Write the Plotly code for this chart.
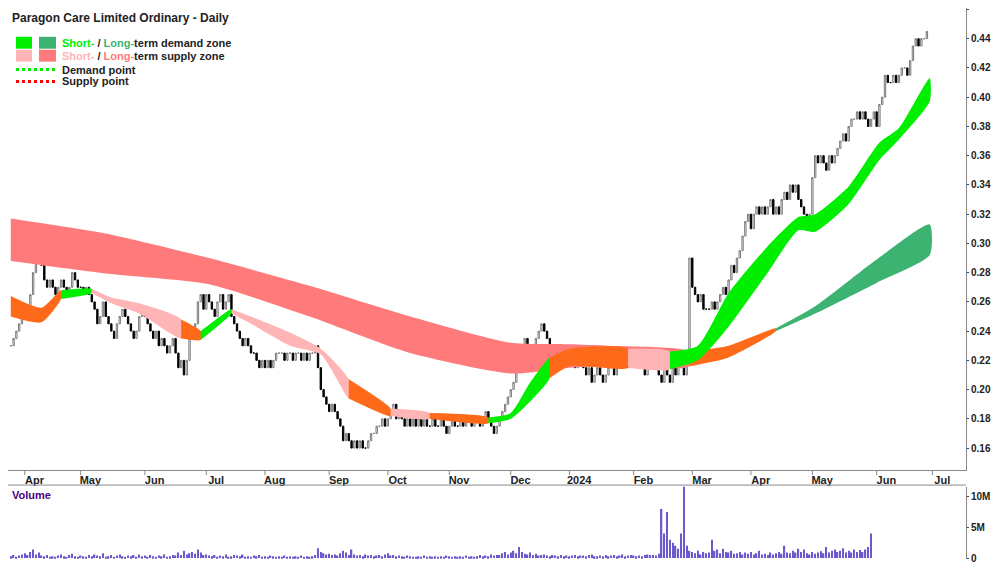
import pandas as pd
import plotly.graph_objects as go
from plotly.subplots import make_subplots

# daily closes, one row per trading week (Mon..Fri), from 27 Mar 2023
closes = [
    0.230, 0.235, 0.240, 0.245, 0.250,
    0.250, 0.255, 0.265, 0.280, 0.290,
    0.295, 0.285, 0.275, 0.270, 0.275,
    0.270, 0.265, 0.270, 0.275, 0.270,
    0.265, 0.270, 0.280, 0.275, 0.270,
    0.270, 0.265, 0.270, 0.265, 0.260,
    0.255, 0.245, 0.250, 0.260, 0.250,
    0.245, 0.240, 0.235, 0.245, 0.250,
    0.255, 0.250, 0.245, 0.240, 0.235,
    0.240, 0.250, 0.255, 0.250, 0.245,
    0.240, 0.235, 0.240, 0.230, 0.235,
    0.230, 0.225, 0.230, 0.235, 0.225,
    0.215, 0.220, 0.210, 0.220, 0.235,
    0.240, 0.245, 0.260, 0.265, 0.255,
    0.265, 0.260, 0.255, 0.250, 0.260,
    0.265, 0.255, 0.260, 0.265, 0.250,
    0.245, 0.240, 0.235, 0.230, 0.235,
    0.230, 0.225, 0.225, 0.220, 0.215,
    0.220, 0.215, 0.220, 0.215, 0.220,
    0.225, 0.225, 0.225, 0.220, 0.225,
    0.225, 0.220, 0.225, 0.225, 0.220,
    0.225, 0.220, 0.225, 0.225, 0.230,
    0.215, 0.200, 0.195, 0.190, 0.185,
    0.190, 0.185, 0.180, 0.175, 0.165,
    0.170, 0.165, 0.160, 0.165, 0.160,
    0.165, 0.160, 0.160, 0.165, 0.170,
    0.170, 0.175, 0.175, 0.180, 0.175,
    0.180, 0.185, 0.190, 0.180, 0.185,
    0.180, 0.175, 0.180, 0.175, 0.180,
    0.175, 0.180, 0.175, 0.180, 0.175,
    0.175, 0.180, 0.175, 0.175, 0.180,
    0.175, 0.170, 0.175, 0.180, 0.175,
    0.175, 0.180, 0.175, 0.180, 0.180,
    0.175, 0.180, 0.180, 0.175, 0.180,
    0.185, 0.180, 0.175, 0.170, 0.175,
    0.180, 0.185, 0.190, 0.195, 0.200,
    0.205, 0.215, 0.230, 0.225, 0.235,
    0.230, 0.225, 0.230, 0.235, 0.240,
    0.245, 0.240, 0.235, 0.230, 0.225,
    0.230, 0.225, 0.220, 0.230, 0.225,
    0.220, 0.225, 0.215, 0.220, 0.225,
    0.215, 0.210, 0.215, 0.205, 0.210,
    0.215, 0.210, 0.205, 0.210, 0.215,
    0.215, 0.210, 0.215, 0.220, 0.215,
    0.220, 0.215, 0.220, 0.225, 0.215,
    0.220, 0.215, 0.210, 0.215, 0.220,
    0.215, 0.220, 0.210, 0.205, 0.215,
    0.210, 0.205, 0.215, 0.210, 0.220,
    0.215, 0.210, 0.220, 0.290, 0.270,
    0.265, 0.260, 0.265, 0.255, 0.255,
    0.255, 0.260, 0.255, 0.260, 0.265,
    0.270, 0.265, 0.275, 0.285, 0.280,
    0.290, 0.295, 0.305, 0.315, 0.320,
    0.310, 0.320, 0.325, 0.320, 0.325,
    0.320, 0.325, 0.330, 0.320, 0.325,
    0.320, 0.330, 0.335, 0.330, 0.340,
    0.335, 0.340, 0.330, 0.325, 0.320,
    0.315, 0.320, 0.345, 0.360, 0.355,
    0.360, 0.355, 0.350, 0.360, 0.355,
    0.360, 0.365, 0.370, 0.375, 0.370,
    0.380, 0.385, 0.385, 0.390, 0.385,
    0.390, 0.385, 0.380, 0.385, 0.390,
    0.380, 0.395, 0.400, 0.415, 0.410,
    0.410, 0.415, 0.410, 0.415, 0.420,
    0.420, 0.415, 0.425, 0.435, 0.440,
    0.435, 0.440, 0.440, 0.445,
]

# daily volume, in units of 100k shares
volume = [
    3, 5, 2, 4, 6,  8, 5, 10, 14, 6,  9, 4, 3, 5, 2,  3, 2, 4, 6, 3,
    2, 5, 7, 3, 2,  4, 3, 2, 5, 3,  6, 4, 3, 8, 2,  3, 5, 2, 4, 6,
    3, 2, 4, 3, 5,  2, 6, 3, 4, 2,  5, 3, 2, 4, 3,  6, 2, 3, 5, 4,
    9, 5, 12, 6, 8,  10, 7, 14, 9, 5,  6, 4, 3, 5, 2,  4, 3, 6, 2, 3,
    5, 4, 3, 6, 2,  3, 2, 4, 3, 5,  2, 3, 2, 4, 3,  2, 3, 2, 4, 2,
    3, 2, 3, 2, 4,  2, 3, 2, 3, 5,  16, 10, 8, 6, 7,  5, 6, 4, 8, 12,
    9, 5, 14, 6, 4,  5, 3, 6, 4, 5,  3, 4, 5, 3, 6,  8, 4, 5, 3, 4,
    3, 2, 4, 3, 2,  2, 3, 2, 4, 2,  3, 2, 3, 2, 3,  2, 4, 3, 2, 3,
    2, 3, 2, 4, 2,  3, 2, 3, 5, 3,  4, 3, 6, 4, 5,  5, 8, 10, 6, 9,
    12, 8, 18, 10, 7,  6, 9, 5, 7, 4,  5, 6, 4, 3, 5,  4, 3, 5, 3, 4,
    3, 4, 5, 3, 4,  4, 3, 5, 6, 3,  3, 4, 3, 5, 3,  4, 5, 3, 4, 6,
    3, 4, 5, 4, 3,  4, 3, 5, 6, 5,  5, 4, 7, 80, 40,  75, 30, 25, 20, 15,
    40, 120, 20, 12, 10,  8, 12, 6, 10, 8,  9, 30, 12, 14, 8,  15, 10, 9, 12, 7,
    8, 10, 6, 9, 7,  10, 6, 8, 12, 6,  7, 5, 9, 6, 8,  10, 7, 20, 9, 8,
    12, 9, 15, 10, 14,  8, 6, 10, 7, 9,  11, 8, 18, 9, 12,  14, 10, 12, 16, 9,
    12, 9, 14, 10, 13,  10, 14, 18, 40,
]

# zone bands: (trading-day index, upper, lower, kind)
short_idx = [0, 11, 18, 29, 36, 46, 61, 68, 79, 86, 100, 111, 121, 136, 150, 171, 179,
             186, 193, 200, 221, 236, 246, 257, 271, 282, 288, 300, 311, 318, 329]
short_hi = [0.264, 0.256, 0.268, 0.269, 0.263, 0.259, 0.248, 0.240, 0.255, 0.250, 0.239,
            0.228, 0.207, 0.187, 0.184, 0.181, 0.184, 0.205, 0.222, 0.228, 0.228, 0.226,
            0.230, 0.266, 0.298, 0.318, 0.320, 0.339, 0.369, 0.379, 0.413]
short_lo = [0.250, 0.246, 0.262, 0.266, 0.259, 0.252, 0.235, 0.234, 0.252, 0.245, 0.230,
            0.224, 0.194, 0.182, 0.180, 0.177, 0.180, 0.192, 0.208, 0.216, 0.215, 0.214,
            0.220, 0.243, 0.280, 0.309, 0.308, 0.327, 0.357, 0.371, 0.397]
short_kind = ["S", "O", "O", "D", "S", "S", "S", "O", "D", "S", "S", "S", "S", "O", "S", "O",
              "D", "D", "D", "O", "O", "S", "D", "D", "D", "D", "D", "D", "D", "D", "D"]

long_idx = [0, 36, 71, 107, 143, 179, 200, 214, 243, 257, 274, 288, 310, 329]
long_hi = [0.317, 0.306, 0.290, 0.271, 0.250, 0.232, 0.231, 0.230, 0.226, 0.230, 0.242, 0.257, 0.289, 0.313]
long_lo = [0.288, 0.279, 0.272, 0.250, 0.225, 0.211, 0.215, 0.216, 0.216, 0.222, 0.240, 0.252, 0.273, 0.292]
long_kind = ["S", "S", "S", "S", "S", "S", "S", "S", "S", "O", "O", "D", "D", "D"]

month_names = ["Apr", "May", "Jun", "Jul", "Aug", "Sep", "Oct", "Nov", "Dec",
               "2024", "Feb", "Mar", "Apr", "May", "Jun", "Jul"]

dates = pd.bdate_range("2023-03-27", "2024-07-05")
idx = list(range(len(closes)))
opens = [closes[0]] + closes[:-1]
highs = [max(o, c) for o, c in zip(opens, closes)]
lows = [min(o, c) for o, c in zip(opens, closes)]

short_col = {"S": "#ffb5b5", "D": "#00ee00", "O": "#ff6a1a"}
long_col = {"S": "#ff7b7b", "D": "#3cb371", "O": "#ff6a1a"}

fig = make_subplots(rows=2, cols=1, shared_xaxes=True, vertical_spacing=0.03,
                    row_heights=[0.85, 0.15])


def add_band(xs, hi, lo, kinds, colors):
    # one filled polygon per run of the same kind
    start = 0
    for i in range(1, len(xs)):
        last = i == len(xs) - 1 or kinds[i + 1] != kinds[i]
        if last:
            seg = range(start, i + 1)
            px = [xs[j] for j in seg] + [xs[j] for j in reversed(seg)]
            py = [hi[j] for j in seg] + [lo[j] for j in reversed(seg)]
            fig.add_trace(go.Scatter(x=px, y=py, fill="toself", mode="lines",
                                     line=dict(width=0, shape="spline", smoothing=0.6),
                                     fillcolor=colors[kinds[i]], hoverinfo="skip",
                                     showlegend=False), row=1, col=1)
            start = i


add_band(long_idx, long_hi, long_lo, long_kind, long_col)
add_band(short_idx, short_hi, short_lo, short_kind, short_col)

fig.add_trace(go.Candlestick(
    x=idx, open=opens, high=highs, low=lows, close=closes,
    increasing=dict(fillcolor="white", line=dict(color="#7a7a7a", width=1)),
    decreasing=dict(fillcolor="black", line=dict(color="black", width=1)),
    whiskerwidth=0, showlegend=False), row=1, col=1)

fig.add_trace(go.Bar(x=idx, y=[v * 1e5 for v in volume], marker_color="#6a5acd",
                     marker_line_width=0, width=0.5, showlegend=False), row=2, col=1)

# month ticks
tick_pos, tick_txt = [], []
m = 0
for i in range(1, len(dates)):
    if dates[i].month != dates[i - 1].month:
        tick_pos.append(i)
        tick_txt.append(month_names[m])
        m += 1

tf = dict(family="Arial", size=10, color="#222")
fig.update_layout(
    width=1000, height=562, paper_bgcolor="white", plot_bgcolor="white",
    margin=dict(l=0, r=42, t=0, b=0), font=tf,
)
fig.update_xaxes(range=[-1, 342], showgrid=False, zeroline=False, rangeslider_visible=False)
fig.update_xaxes(row=1, col=1, tickvals=[p + 3.5 for p in tick_pos], ticktext=[f"<b>{t}</b>" for t in tick_txt],
                 showticklabels=True, ticks="", showline=True, linecolor="#888",
                 tickfont=dict(family="Arial", size=11, color="#222"))
fig.update_xaxes(row=2, col=1, showticklabels=False, showline=False)
fig.update_yaxes(row=1, col=1, side="right", range=[0.145, 0.461],
                 tickvals=[0.16 + 0.02 * k for k in range(16)],
                 ticktext=[f"<b>{0.16 + 0.02 * k:.2f}</b>" for k in range(16)],
                 showgrid=False, zeroline=False, showline=True,
                 linecolor="#888", ticks="outside", ticklen=2, tickfont=tf)
fig.update_yaxes(row=2, col=1, side="right", range=[-0.2e6, 11.6e6],
                 tickvals=[0, 5e6, 10e6], ticktext=["<b>0</b>", "<b>5M</b>", "<b>10M</b>"], showgrid=False,
                 zeroline=False, showline=True, linecolor="#888", ticks="outside", ticklen=2,
                 tickfont=tf)
fig.update_layout(yaxis=dict(domain=[0.172, 1.0]), yaxis2=dict(domain=[0.012, 0.142]),
                  xaxis=dict(anchor="y"), xaxis2=dict(anchor="y2"))

# month tick marks on price axis
for p in tick_pos:
    fig.add_shape(type="line", xref="x", yref="paper", x0=p, x1=p, y0=0.172, y1=0.163,
                  line=dict(color="#888", width=1))
fig.add_shape(type="line", xref="paper", yref="paper", x0=0, x1=1.0, y0=0.145, y1=0.145,
              line=dict(color="#888", width=1))

# title and legend
fig.add_annotation(xref="paper", yref="paper", x=0.002, y=0.999, xanchor="left", yanchor="top",
                   text="<b>Paragon Care Limited Ordinary - Daily</b>", showarrow=False,
                   font=dict(family="Arial", size=12, color="#222"))
fig.add_annotation(xref="paper", yref="paper", x=0.002, y=0.142, xanchor="left", yanchor="top",
                   text="<b>Volume</b>", showarrow=False,
                   font=dict(family="Arial", size=11, color="#4b0082"))


def ypx(py):
    return 1 - py / 562


def xpx(px):
    return px / 958


lf = dict(family="Arial", size=11, color="#222")
legend_rows = [
    (35, "#00ee00", "#3cb371",
     "<b><span style='color:#00ee00'>Short-</span> / <span style='color:#3cb371'>Long-</span>term demand zone</b>"),
    (48, "#ffb5b5", "#ff7b7b",
     "<b><span style='color:#ffb5b5'>Short-</span> / <span style='color:#ff7b7b'>Long-</span>term supply zone</b>"),
]
for py, c1, c2, txt in legend_rows:
    fig.add_shape(type="rect", xref="paper", yref="paper", x0=xpx(8), x1=xpx(24),
                  y0=ypx(py + 6), y1=ypx(py - 6), fillcolor=c1, line_width=0)
    fig.add_shape(type="rect", xref="paper", yref="paper", x0=xpx(31), x1=xpx(48),
                  y0=ypx(py + 6), y1=ypx(py - 6), fillcolor=c2, line_width=0)
    fig.add_annotation(xref="paper", yref="paper", x=xpx(52), y=ypx(py), xanchor="left",
                       yanchor="middle", text=txt, showarrow=False, font=lf)
for py, c, txt in [(62, "#00ee00", "<b>Demand point</b>"), (74, "#ff0000", "<b>Supply point</b>")]:
    fig.add_shape(type="line", xref="paper", yref="paper", x0=xpx(8), x1=xpx(48),
                  y0=ypx(py), y1=ypx(py), line=dict(color=c, width=3, dash="dot"))
    fig.add_annotation(xref="paper", yref="paper", x=xpx(52), y=ypx(py), xanchor="left",
                       yanchor="middle", text=txt, showarrow=False, font=lf)

fig.write_html("out.html")
